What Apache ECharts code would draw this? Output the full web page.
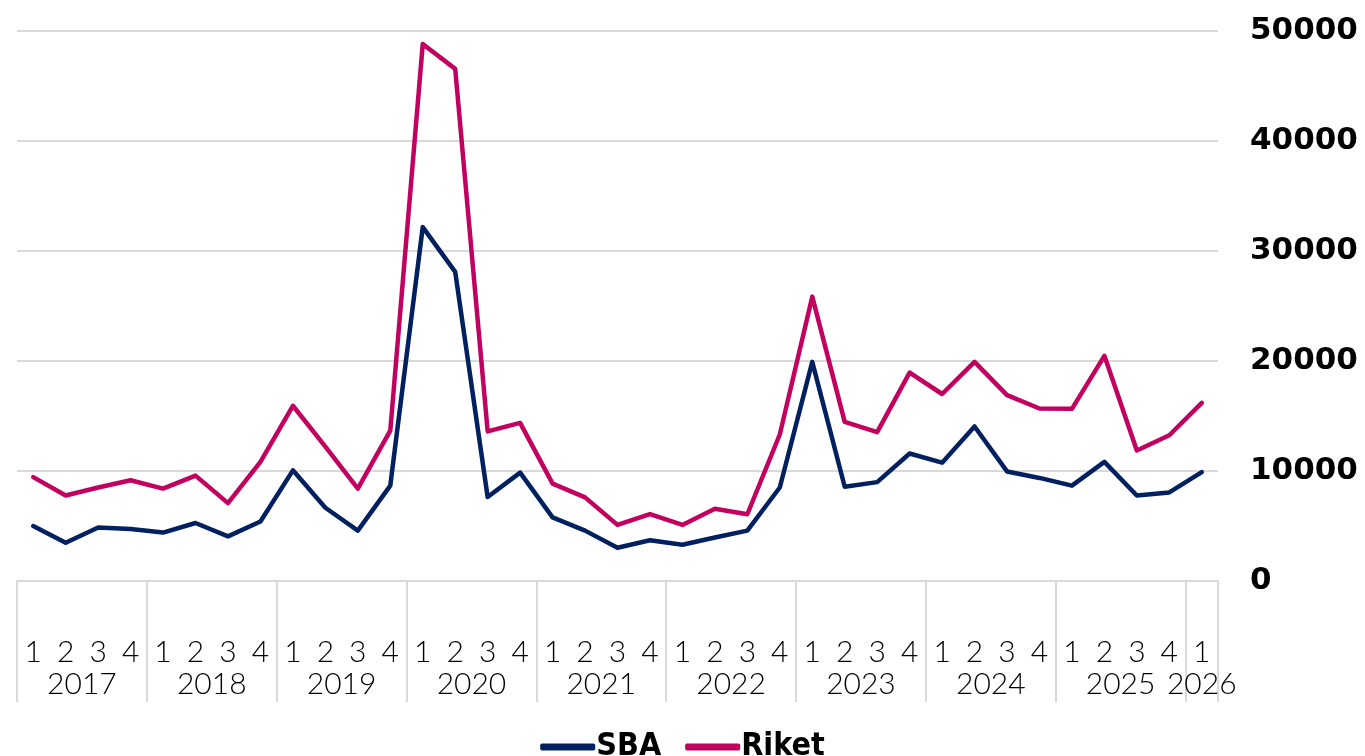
<!DOCTYPE html>
<html>
<head>
<meta charset="utf-8">
<script src="https://cdn.jsdelivr.net/npm/echarts@6/dist/echarts.min.js"></script>
<style>
  html, body { margin: 0; padding: 0; background: #fff; overflow: hidden; }
  #chart { width: 1365px; height: 756px; }
</style>
</head>
<body>
<div id="chart"></div>
<script>
// quarters 2017 Q1 .. 2026 Q1
const years = ['2017', '2018', '2019', '2020', '2021', '2022', '2023', '2024', '2025', '2026']
const quarters = []
years.forEach((y, i) => {
  const n = i === years.length - 1 ? 1 : 4
  for (let q = 1; q <= n; q++) quarters.push(String(q))
})

const sba = [
  5000, 3470, 4860, 4720,
  4400, 5270, 4060, 5410,
  10060, 6660, 4580, 8670,
  32170, 28100, 7630, 9850,
  5790, 4580, 3020, 3710,
  3300, 3960, 4580, 8500,
  19920, 8570, 8990, 11590,
  10760, 14050, 9960, 9370,
  8670, 10830, 7770, 8050,
  9890,
]
const riket = [
  9440, 7770, 8500, 9160,
  8400, 9580, 7080, 10830,
  15930, 12210, 8400, 13670,
  48820, 46560, 13600, 14370,
  8850, 7600, 5100, 6070,
  5100, 6560, 6070, 13320,
  25850, 14470, 13530, 18950,
  17000, 19920, 16900, 15680,
  15650, 20470, 11870, 13250,
  16200,
]

// year separators and label centres, in quarter units
const yearStarts = years.map((y, i) => i * 4).concat([quarters.length])
const yearCenters = years.map((y, i) => (i === years.length - 1 ? i * 4 + 0.5 : i * 4 + 2))

const gridColor = '#d9d9d9'
const labelFont = 'Lato, "Noto Sans", sans-serif'

const chart = echarts.init(document.getElementById('chart'))
chart.setOption({
  animation: false,
  backgroundColor: '#fff',
  grid: { left: 17, right: 147, top: 31, bottom: 175, containLabel: false, outerBoundsMode: 'none' },
  legend: {
    data: ['SBA', 'Riket'],
    bottom: -12,
    left: 'center',
    itemWidth: 55,
    itemHeight: 7,
    itemGap: 24,
    icon: 'roundRect',
    textStyle: {
      color: '#000',
      fontSize: 32,
      fontWeight: 'bold',
      fontFamily: '"DejaVu Sans Condensed", "DejaVu Sans", sans-serif',
      padding: [0, 0, 0, -4],
    },
  },
  xAxis: [
    {
      type: 'category',
      data: quarters,
      boundaryGap: true,
      axisLine: { lineStyle: { color: gridColor, width: 2 } },
      axisTick: { show: false },
      axisLabel: {
        interval: 0,
        color: '#000',
        fontSize: 30,
        fontWeight: 300,
        fontFamily: labelFont,
        margin: 56,
      },
    },
    {
      type: 'value',
      min: 0,
      max: quarters.length,
      position: 'bottom',
      axisLine: { show: false },
      splitLine: { show: false },
      axisTick: {
        show: true,
        customValues: yearStarts,
        length: 121,
        lineStyle: { color: gridColor, width: 2 },
      },
      axisLabel: {
        customValues: yearCenters,
        color: '#000',
        fontSize: 30,
        fontWeight: 300,
        fontFamily: labelFont,
        margin: 88,
        formatter: (v) => {
          const i = yearCenters.indexOf(v)
          return i >= 0 ? years[i] : ''
        },
      },
    },
  ],
  yAxis: {
    type: 'value',
    position: 'right',
    min: 0,
    max: 50000,
    interval: 10000,
    axisLine: { show: false },
    axisTick: { show: false },
    splitLine: { lineStyle: { color: gridColor, width: 2 } },
    axisLabel: {
      color: '#000',
      fontSize: 31,
      fontWeight: 'bold',
      fontFamily: '"DejaVu Sans", sans-serif',
      margin: 32,
      formatter: (v) => String(v),
    },
  },
  series: [
    {
      name: 'SBA',
      type: 'line',
      data: sba,
      symbol: 'none',
      lineStyle: { width: 4.5, color: '#002060', join: 'round', cap: 'round' },
      itemStyle: { color: '#002060' },
    },
    {
      name: 'Riket',
      type: 'line',
      data: riket,
      symbol: 'none',
      lineStyle: { width: 4.5, color: '#C2005F', join: 'round', cap: 'round' },
      itemStyle: { color: '#C2005F' },
    },
  ],
})
</script>
</body>
</html>
